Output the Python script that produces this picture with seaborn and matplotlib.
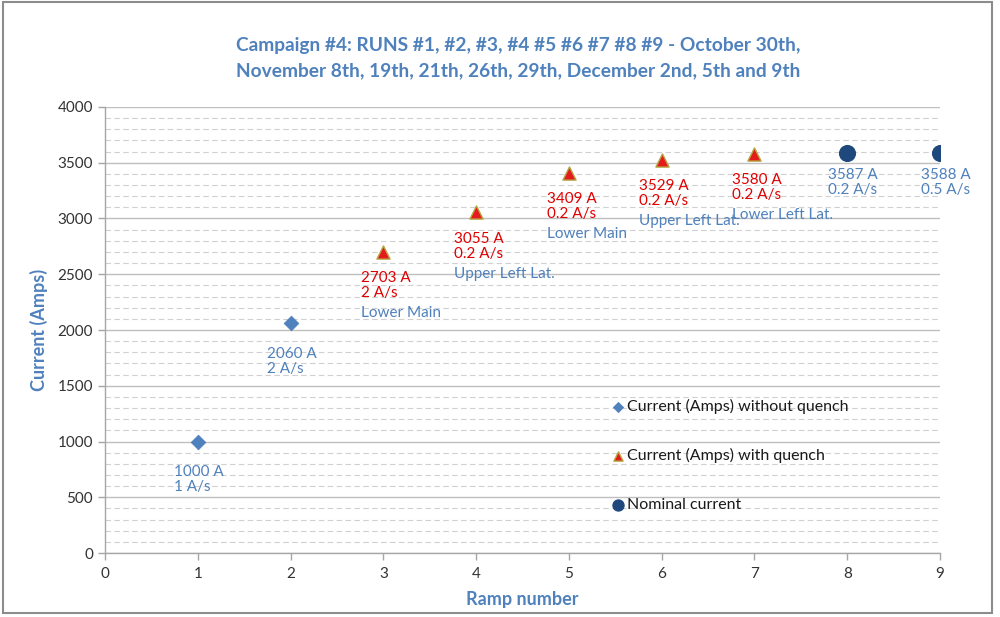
import matplotlib
matplotlib.use("Agg")
import matplotlib.pyplot as plt
import seaborn as sns
import pandas as pd
from matplotlib.patches import Rectangle

# ---- data ----
ramps_no_quench = [1, 2]
current_no_quench = [1000, 2060]
rate_no_quench = ["1 A/s", "2 A/s"]

ramps_quench = [3, 4, 5, 6, 7]
current_quench = [2703, 3055, 3409, 3529, 3580]
rate_quench = ["2 A/s", "0.2 A/s", "0.2 A/s", "0.2 A/s", "0.2 A/s"]
location_quench = ["Lower Main", "Upper Left Lat.", "Lower Main", "Upper Left Lat.", "Lower Left Lat."]

ramps_nominal = [8, 9]
current_nominal = [3587, 3588]
rate_nominal = ["0.2 A/s", "0.5 A/s"]

title = ("Campaign #4: RUNS #1, #2, #3, #4 #5 #6 #7 #8 #9 - October 30th,\n"
         "November 8th, 19th, 21th, 26th, 29th, December 2nd, 5th and 9th")
x_ticks = list(range(0, 10))
y_ticks = list(range(0, 4001, 500))

BLUE = "#4F81BD"
RED = "#E00000"
NAVY = "#1F497D"

sns.set_theme(style="white")
plt.rcParams['font.family'] = ['Lato', 'DejaVu Sans']

fig = plt.figure(figsize=(10, 6.17), dpi=100)
ax = fig.add_axes([0.105, 0.1037, 0.835, 0.7229])

df1 = pd.DataFrame({"x": ramps_no_quench, "y": current_no_quench})
df2 = pd.DataFrame({"x": ramps_quench, "y": current_quench})
df3 = pd.DataFrame({"x": ramps_nominal, "y": current_nominal})

sns.scatterplot(data=df1, x="x", y="y", ax=ax, marker="D", s=55, color=BLUE,
                edgecolor=BLUE, label="Current (Amps) without quench", zorder=5)
sns.scatterplot(data=df2, x="x", y="y", ax=ax, marker="^", s=90, color="#E41A1C",
                edgecolor="#B5A642", linewidth=1.0, label="Current (Amps) with quench", zorder=5)
sns.scatterplot(data=df3, x="x", y="y", ax=ax, marker="o", s=130, color=NAVY,
                edgecolor=NAVY, label="Nominal current", zorder=5)

ax.set_xlim(0, 9)
ax.set_ylim(0, 4000)
ax.set_xticks(x_ticks)
ax.set_yticks(y_ticks)
ax.set_yticks(list(range(0, 4001, 100)), minor=True)
ax.grid(which="major", axis="y", color="#BFBFBF", linewidth=1.0, linestyle="-")
ax.grid(which="minor", axis="y", color="#D0D0D0", linewidth=0.8, linestyle=(0, (5, 3)))
ax.set_axisbelow(True)
for s in ["top", "right"]:
    ax.spines[s].set_visible(False)
for s in ["left", "bottom"]:
    ax.spines[s].set_color("#A6A6A6")
    ax.spines[s].set_linewidth(1.0)
ax.tick_params(axis="both", which="major", direction="out", length=5, width=1,
               color="#A6A6A6", labelsize=11, labelcolor="#333333", bottom=True, left=True)
ax.tick_params(axis="y", which="minor", length=0)
ax.tick_params(axis="x", pad=5)

ax.set_xlabel("Ramp number", fontsize=13, fontweight="bold", color=BLUE)
ax.set_ylabel("Current (Amps)", fontsize=13, fontweight="bold", color=BLUE)
ax.xaxis.set_label_coords(0.5, -0.085)
ax.yaxis.set_label_coords(-0.068, 0.5)
fig.suptitle(title, x=0.518, fontsize=13.8, fontweight="bold", color=BLUE, y=0.94,
             linespacing=1.6)

fs = 11
# labels without quench
for x, y, r in zip(ramps_no_quench, current_no_quench, rate_no_quench):
    ax.annotate(f"{y} A\n{r}", (x, y), xytext=(-17, -17), textcoords="offset points",
                ha="left", va="top", fontsize=fs, color=BLUE, linespacing=1.1)
# labels with quench
for x, y, r, loc in zip(ramps_quench, current_quench, rate_quench, location_quench):
    ax.annotate(f"{y} A\n{r}", (x, y), xytext=(-16, -14), textcoords="offset points",
                ha="left", va="top", fontsize=fs, color=RED, linespacing=1.1)
    ax.annotate(loc, (x, y), xytext=(-16, -39), textcoords="offset points",
                ha="left", va="top", fontsize=fs, color=BLUE)
# nominal labels
for x, y, r in zip(ramps_nominal, current_nominal, rate_nominal):
    ax.annotate(f"{y} A\n{r}", (x, y), xytext=(-14, -11), textcoords="offset points",
                ha="left", va="top", fontsize=fs, color=BLUE, linespacing=1.1)

leg = ax.legend(loc="upper left", bbox_to_anchor=(0.587, 0.378), frameon=False,
                fontsize=11.5, labelspacing=2.15, handletextpad=0.1, handlelength=1.0,
                markerscale=0.7)
for t in leg.get_texts():
    t.set_color("#1A1A1A")

fig.patches.append(Rectangle((0.003, 0.006), 0.989, 0.99, transform=fig.transFigure,
                             fill=False, edgecolor="#8C8C8C", linewidth=1.5))
fig.savefig("out.png", dpi=100)
